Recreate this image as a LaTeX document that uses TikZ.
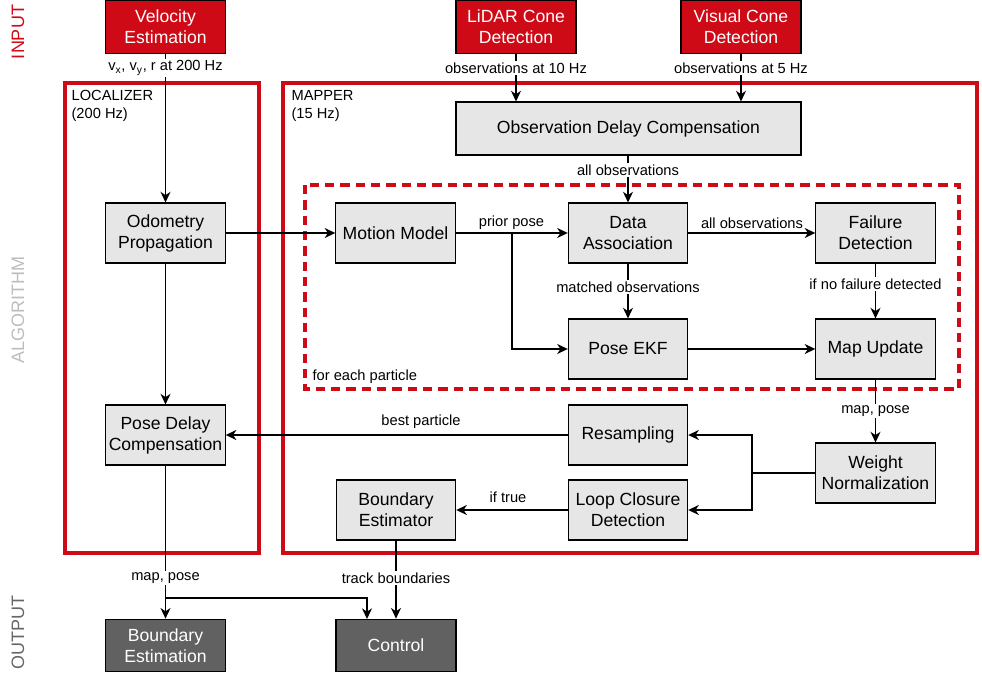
\documentclass[tikz,border=0pt]{standalone}
\usepackage{fontspec}
\setmainfont{Liberation Sans}
\usetikzlibrary{arrows.meta}
\definecolor{tumred}{HTML}{CF0A17}
\definecolor{boxgray}{HTML}{E6E6E6}
\definecolor{darkbox}{HTML}{616161}
\definecolor{alggray}{HTML}{BDBDBD}
\definecolor{outgray}{HTML}{666666}
\begin{document}
\begin{tikzpicture}[x=0.75pt,y=-0.75pt,
  base/.style={draw=black,line width=0.8pt,align=center,inner sep=1pt,font=\fontsize{13.2}{15.8}\selectfont},
  box/.style={base,fill=boxgray,minimum width=89.5pt,minimum height=45pt},
  inbox/.style={base,fill=tumred,text=white,minimum width=90pt,minimum height=39.5pt},
  outbox/.style={base,fill=darkbox,text=white,minimum width=90pt,minimum height=39.5pt},
  frame/.style={draw=tumred,line width=3pt},
  dframe/.style={draw=tumred,line width=2.3pt,dash pattern=on 7pt off 4.5pt},
  arr/.style={line width=1.1pt,-{Stealth[length=8pt,width=7.5pt,inset=2.5pt]}},
  ln/.style={line width=1.1pt},
  lbl/.style={font=\fontsize{11}{13}\selectfont,inner sep=1pt},
  wlbl/.style={lbl,fill=white},
  side/.style={rotate=90,font=\fontsize{13.5}{15}\selectfont}]
\useasboundingbox (0,0) rectangle (982,675);
% side labels
\node[side,text=tumred] (sin) at (18,32) {INPUT};
\node[side,text=alggray] (salg) at (18,310) {ALGORITHM};
\node[side,text=outgray] (sout) at (18,632) {OUTPUT};
% frames
\draw[frame] (65,83) rectangle (259,553);
\draw[frame] (283,83) rectangle (977,553);
\draw[dframe] (305,185) rectangle (959,389);
\node[lbl,anchor=north west,align=left] (loc) at (70,89) {LOCALIZER\\(200 Hz)};
\node[lbl,anchor=north west,align=left] (map) at (290,89) {MAPPER\\(15 Hz)};
\node[lbl,anchor=west] (fep) at (311,377) {for each particle};
% input nodes
\node[inbox] (vel) at (165.5,27) {Velocity\\Estimation};
\node[inbox] (lidar) at (516,27) {LiDAR Cone\\Detection};
\node[inbox] (vis) at (741,27) {Visual Cone\\Detection};
% algorithm nodes
\node[box,minimum width=258.75pt,minimum height=39.75pt] (odc) at (628.5,128.5) {Observation Delay Compensation};
\node[box] (odo) at (165.5,233) {Odometry\\Propagation};
\node[box] (pdc) at (165.5,435) {Pose Delay\\Compensation};
\node[box] (mm) at (395.5,233) {Motion Model};
\node[box] (da) at (628,233) {Data\\Association};
\node[box] (fd) at (875.5,233) {Failure\\Detection};
\node[box] (ekf) at (628,349) {Pose EKF};
\node[box] (mu) at (875.5,349) {Map Update};
\node[box] (res) at (628,435) {Resampling};
\node[box] (wn) at (875.5,473) {Weight\\Normalization};
\node[box] (lcd) at (628,510) {Loop Closure\\Detection};
\node[box] (be) at (396,510) {Boundary\\Estimator};
% output nodes
\node[outbox] (bnd) at (165.5,645.5) {Boundary\\Estimation};
\node[outbox] (ctrl) at (396,645.5) {Control};
% connectors
\draw[arr] (vel) -- (odo);
\draw[arr] (lidar.south) -- (lidar.south |- odc.north);
\draw[arr] (vis.south) -- (vis.south |- odc.north);
\draw[arr] (odc.south -| da.north) -- (da.north);
\draw[arr] (odo) -- (mm);
\draw[arr] (odo) -- (pdc);
\draw[arr] (mm) -- (da);
\coordinate (pj) at (512,233);
\draw[arr] (pj) |- (ekf.west);
\draw[arr] (da) -- (fd);
\draw[arr] (da) -- (ekf);
\draw[arr] (fd) -- (mu);
\draw[arr] (ekf) -- (mu);
\draw[arr] (mu) -- (wn);
\coordinate (wj) at (752,473);
\draw[ln] (wn.west) -- (wj);
\draw[arr] (wj) |- (res.east);
\draw[arr] (wj) |- (lcd.east);
\draw[arr] (res) -- (pdc);
\draw[arr] (lcd) -- (be);
\draw[arr] (be) -- (ctrl);
\draw[arr] (pdc) -- (bnd);
\coordinate (cj) at (165.5,598);
\coordinate (cin) at (367,619);
\draw[arr] (cj) -| (cin);
% labels
\node[wlbl] (l1) at (165.5,68) {v\textsubscript{x}, v\textsubscript{y}, r at 200 Hz};
\node[wlbl] (l2) at (516,68) {observations at 10 Hz};
\node[wlbl] (l3) at (741,68) {observations at 5 Hz};
\node[wlbl] (l4) at (628,170) {all observations};
\node[lbl] (l5) at (511.5,223) {prior pose};
\node[lbl] (l6) at (752,223) {all observations};
\node[wlbl] (l7) at (628,287) {matched observations};
\node[wlbl] (l8) at (875.5,284) {if no failure detected};
\node[wlbl] (l9) at (875.5,411) {map, pose};
\node[lbl] (l10) at (421,422) {best particle};
\node[lbl] (l11) at (508,497) {if true};
\node[wlbl] (l12) at (396,578) {track boundaries};
\node[wlbl] (l13) at (165.5,578) {map, pose};
\end{tikzpicture}
\end{document}
